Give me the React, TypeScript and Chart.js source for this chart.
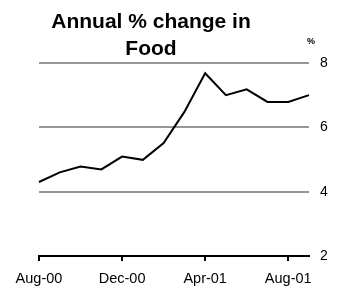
import React, { useEffect, useRef } from "react";
import { Chart, registerables } from "chart.js";

Chart.register(...registerables);

const months = [
  "Aug-00", "Sep-00", "Oct-00", "Nov-00", "Dec-00", "Jan-01", "Feb-01",
  "Mar-01", "Apr-01", "May-01", "Jun-01", "Jul-01", "Aug-01", "Sep-01",
];
const foodChange = [4.3, 4.6, 4.78, 4.69, 5.09, 4.99, 5.51, 6.48, 7.68, 7.0, 7.18, 6.79, 6.79, 7.0];
const yTicks = [2, 4, 6, 8];
const titleLines = ["Annual % change in", "Food"];
const unitLabel = "%";

const FONT = "'Liberation Sans', Arial, sans-serif";

export default function App() {
  const ref = useRef<HTMLCanvasElement | null>(null);
  useEffect(() => {
    if (!ref.current) return;
    const titlePlugin = {
      id: "customTitle",
      afterDraw(chart: any) {
        const ctx = chart.ctx;
        ctx.save();
        ctx.fillStyle = "#000";
        ctx.textAlign = "center";
        ctx.textBaseline = "alphabetic";
        ctx.font = `bold 21px ${FONT}`;
        ctx.fillText(titleLines[0], 151, 28);
        ctx.fillText(titleLines[1], 151, 54.5);
        ctx.font = `bold 9px ${FONT}`;
        ctx.fillText(unitLabel, chart.chartArea.right + 2, 44);
        ctx.restore();
      },
    };
    const chart = new Chart(ref.current, {
      type: "line",
      data: {
        labels: months,
        datasets: [
          {
            data: foodChange,
            borderColor: "#000",
            borderWidth: 2,
            pointRadius: 0,
            tension: 0,
            fill: false,
          },
        ],
      },
      options: {
        animation: false,
        responsive: false,
        layout: { padding: { left: 39, top: 63, right: 0, bottom: 0 } },
        plugins: { legend: { display: false }, title: { display: false }, tooltip: { enabled: false } },
        scales: {
          x: {
            type: "category",
            offset: false,
            border: { display: true, color: "#000", width: 2 },
            grid: {
              drawOnChartArea: false,
              drawTicks: true,
              tickLength: 5,
              lineWidth: 2,
              color: (c: any) => (c.index % 4 === 0 ? "#000" : "rgba(0,0,0,0)"),
            },
            ticks: {
              autoSkip: false,
              maxRotation: 0,
              minRotation: 0,
              padding: 9,
              color: "#000",
              font: { family: FONT, size: 14.5 },
              callback: (_v: any, i: number) => (i % 4 === 0 ? months[i] : ""),
            },
            afterFit: (s: any) => {
              s.height = 31;
            },
          },
          y: {
            position: "right",
            min: yTicks[0],
            max: yTicks[yTicks.length - 1],
            afterBuildTicks: (s: any) => {
              s.ticks = yTicks.map((v) => ({ value: v }));
            },
            border: { display: false },
            grid: {
              drawTicks: false,
              lineWidth: 2,
              color: (c: any) => (c.tick && c.tick.value === 2 ? "rgba(0,0,0,0)" : "#969696"),
            },
            ticks: {
              padding: 11,
              color: "#000",
              font: { family: FONT, size: 14 },
            },
            afterFit: (s: any) => {
              s.width = 30;
            },
          },
        },
      },
      plugins: [titlePlugin],
    });
    return () => chart.destroy();
  }, []);
  return (
    <div style={{ position: "absolute", left: 0, top: 0 }}>
      <canvas ref={ref} width={339} height={287} />
    </div>
  );
}
